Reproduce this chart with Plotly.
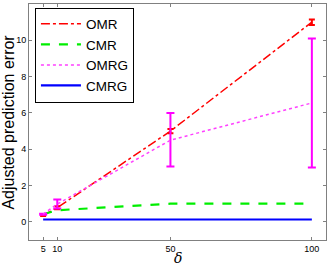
import plotly.graph_objects as go

delta = [5, 10, 50, 100]
omr = [0.35, 0.78, 5.0, 11.0]
omr_err = [0.03, 0.08, 0.12, 0.15]
cmr = [0.42, 0.64, 1.0, 1.0]
omrg = [0.42, 0.98, 4.5, 6.55]
omrg_err_plus = [0.03, 0.25, 1.5, 3.55]
omrg_err_minus = [0.03, 0.25, 1.45, 3.55]
cmrg = [0.13, 0.13, 0.13, 0.13]
yticks = [0, 2, 4, 6, 8, 10, 12]
xticks = [5, 10, 50, 100]

fig = go.Figure()
fig.add_trace(go.Scatter(x=delta, y=omr, name="OMR", mode="lines",
                         line=dict(color="red", width=1.5, dash="dashdot"),
                         error_y=dict(type="data", array=omr_err, color="red", thickness=2, width=3)))
fig.add_trace(go.Scatter(x=delta, y=cmr, name="CMR", mode="lines",
                         line=dict(color="#00ee00", width=2.2, dash="dash")))
fig.add_trace(go.Scatter(x=delta, y=omrg, name="OMRG", mode="lines",
                         line=dict(color="#ff40ff", width=1.5, dash="dot"),
                         error_y=dict(type="data", symmetric=False, array=omrg_err_plus,
                                      arrayminus=omrg_err_minus, color="#ff00ff", thickness=2, width=4)))
fig.add_trace(go.Scatter(x=delta, y=cmrg, name="CMRG", mode="lines",
                         line=dict(color="#0000ff", width=2.2)))

axis_common = dict(showgrid=False, zeroline=False, showline=True, linecolor="#808080",
                   linewidth=1, mirror="allticks", ticks="inside", ticklen=3, automargin=False,
                   tickcolor="#808080", tickfont=dict(family="Liberation Sans", size=9, color="black"))
fig.update_xaxes(range=[0, 105], tickvals=xticks, ticktext=[str(t) for t in xticks], **axis_common)
fig.update_yaxes(range=[-1, 12], tickvals=yticks, **axis_common)
fig.add_annotation(text="<i>δ</i>", xref="paper", yref="paper", x=0.5, y=-0.078, yanchor="middle",
                   showarrow=False, font=dict(family="DejaVu Serif", size=14, color="black"))
fig.add_annotation(text="Adjusted prediction error", xref="paper", yref="paper", x=-0.072, y=0.5,
                   xanchor="center", yanchor="middle", textangle=-90,
                   showarrow=False, font=dict(family="Liberation Sans", size=16, color="black"))
fig.update_layout(width=332, height=268, margin=dict(l=29, r=6, t=4, b=28),
                  plot_bgcolor="white", paper_bgcolor="white",
                  legend=dict(x=0.02, y=0.985, xanchor="left", yanchor="top",
                              bordercolor="black", borderwidth=1, bgcolor="white",
                              font=dict(family="Liberation Sans", size=13.5, color="black"),
                              itemwidth=40, tracegroupgap=0),
                  showlegend=True)
fig.write_html("out.html", config={"displayModeBar": False},
               post_script="document.body.style.margin='0';document.body.style.overflow='hidden';")
